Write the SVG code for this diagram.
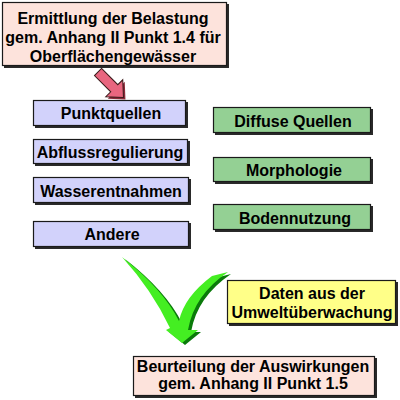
<svg xmlns="http://www.w3.org/2000/svg" width="400" height="400" viewBox="0 0 400 400">
<style>
text{font-family:"Liberation Sans",Arial,sans-serif;font-weight:bold;font-size:16px;fill:#000;text-anchor:middle}
.sh{fill:#2a2a2a}
.box{stroke:#1a1a1a;stroke-width:1.2}
.pink{fill:#fde3dc}
.blue{fill:#d2d2fb}
.green{fill:#94d094}
.yellow{fill:#ffff88}
</style>
<defs>
<path id="chk" d="M122,257 Q152,290 170,328 L166,330 L182,343 L198,330 L188,330 Q194,295 228,272 L212,276 Q184,297 179,321 Q163,289 122,257 Z"/>
<polygon id="arr" points="0,-5 23,-5 23,-12 36,0 23,12 23,5 0,5"/>
</defs>
<rect width="400" height="400" fill="#fff"/>
<g id="top">
<rect class="sh" x="4" y="4" width="225" height="64"/>
<rect class="box pink" x="2.5" y="2.5" width="224" height="63"/>
<text x="113" y="24">Ermittlung der Belastung</text>
<text x="113" y="43">gem. Anhang II Punkt 1.4 für</text>
<text x="113" y="62">Oberflächengewässer</text>
</g>
<g id="connectors">
<use href="#arr" fill="#8a2a3a" transform="translate(100,74) rotate(45)"/>
<use href="#arr" fill="#e8667f" stroke="#3a1a1a" stroke-width="1" transform="translate(98,72) rotate(45)"/>
<g id="check">
<use href="#chk" fill="#0a7a0a" transform="translate(3,2)"/>
<use href="#chk" fill="#44ee22"/>
</g>
</g>
<g id="punktquellen">
<rect class="sh" x="35" y="102" width="153" height="26"/>
<rect class="box blue" x="33.5" y="100.5" width="152" height="25"/>
<text x="111" y="119">Punktquellen</text>
</g>
<g id="abfluss">
<rect class="sh" x="35" y="141" width="155" height="25"/>
<rect class="box blue" x="33.5" y="139.5" width="154" height="24"/>
<text x="110" y="158">Abflussregulierung</text>
</g>
<g id="wasser">
<rect class="sh" x="35" y="179" width="156" height="26"/>
<rect class="box blue" x="33.5" y="177.5" width="155" height="25"/>
<text x="111" y="197">Wasserentnahmen</text>
</g>
<g id="andere">
<rect class="sh" x="35" y="223" width="156" height="26"/>
<rect class="box blue" x="33.5" y="221.5" width="155" height="25"/>
<text x="112" y="240">Andere</text>
</g>
<g id="diffuse">
<rect class="sh" x="215" y="109" width="158" height="26"/>
<rect class="box green" x="213.5" y="107.5" width="157" height="25"/>
<text x="293" y="127">Diffuse Quellen</text>
</g>
<g id="morphologie">
<rect class="sh" x="215" y="159" width="158" height="25"/>
<rect class="box green" x="213.5" y="157.5" width="157" height="24"/>
<text x="294" y="176">Morphologie</text>
</g>
<g id="boden">
<rect class="sh" x="215" y="206" width="158" height="26"/>
<rect class="box green" x="213.5" y="204.5" width="157" height="25"/>
<text x="295" y="224">Bodennutzung</text>
</g>
<g id="daten">
<rect class="sh" x="229" y="282" width="169" height="44"/>
<rect class="box yellow" x="227.5" y="280.5" width="168" height="43"/>
<text x="312" y="299">Daten aus der</text>
<text x="312" y="318">Umweltüberwachung</text>
</g>
<g id="beurteilung">
<rect class="sh" x="135" y="358" width="242" height="40"/>
<rect class="box pink" x="133.5" y="356.5" width="241" height="39"/>
<text x="253" y="372">Beurteilung der Auswirkungen</text>
<text x="253" y="389">gem. Anhang II Punkt 1.5</text>
</g>
</svg>
